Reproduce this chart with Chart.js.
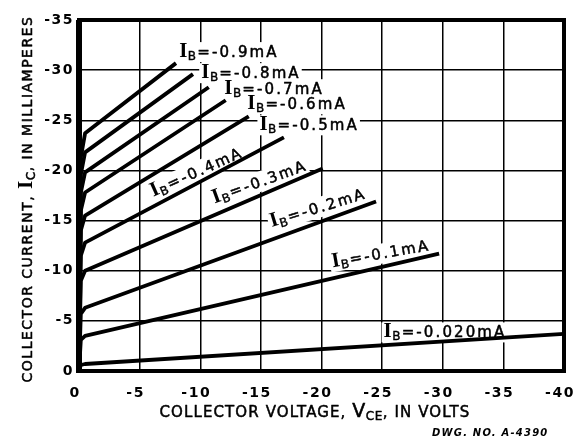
<!DOCTYPE html>
<html><head><meta charset="utf-8">
<script src="https://cdn.jsdelivr.net/npm/chart.js@4"></script>
<style>html,body{margin:0;padding:0;background:#fff}canvas{display:block}</style>
</head><body>
<canvas id="c" width="575" height="444"></canvas>
<script>
// ---- data ----
const baseCurrents = ['-0.9', '-0.8', '-0.7', '-0.6', '-0.5', '-0.4', '-0.3', '-0.2', '-0.1', '-0.020'];
// [collector voltage (V), collector current (mA)]
const curve090 = [[0, 0], [-0.15, -21.3], [-0.5, -23.7], [-8.0, -30.7]];
const curve080 = [[0, 0], [-0.15, -19.6], [-0.5, -21.8], [-9.4, -29.6]];
const curve070 = [[0, 0], [-0.15, -17.8], [-0.5, -19.8], [-10.7, -28.3]];
const curve060 = [[0, 0], [-0.15, -16.0], [-0.5, -17.8], [-12.1, -27.0]];
const curve050 = [[0, 0], [-0.15, -14.0], [-0.5, -15.5], [-14.0, -25.4]];
const curve040 = [[0, 0], [-0.15, -11.5], [-0.5, -12.8], [-16.9, -23.3]];
const curve030 = [[0, 0], [-0.15, -9.0], [-0.5, -10.0], [-20.1, -20.2]];
const curve020 = [[0, 0], [-0.15, -5.7], [-0.5, -6.3], [-24.5, -16.9]];
const curve010 = [[0, 0], [-0.15, -3.1], [-0.5, -3.5], [-29.7, -11.7]];
const curve002 = [[0, 0], [-0.15, -0.6], [-0.5, -0.7], [-40.0, -3.7]];
const xTickValues = [0, -5, -10, -15, -20, -25, -30, -35, -40];
const yTickValues = [0, -5, -10, -15, -20, -25, -30, -35];

const curves = [curve090, curve080, curve070, curve060, curve050, curve040, curve030, curve020, curve010, curve002];

const SANS = '"DejaVu Sans", sans-serif';
const SERIF = '"Liberation Serif", serif';

function measureParts(ctx, parts) {
  return parts.map(p => { ctx.font = p.font; ctx.letterSpacing = (p.ls || 0) + 'px'; return ctx.measureText(p.t).width; });
}
function drawRich(ctx, parts, x, y, angleDeg, align, mode, box) {
  ctx.save();
  ctx.translate(x, y);
  ctx.rotate(angleDeg * Math.PI / 180);
  const w = measureParts(ctx, parts);
  const total = w.reduce((a, b) => a + b, 0);
  let sx = align === 'left' ? 0 : (align === 'right' ? -total : -total / 2);
  ctx.textBaseline = 'alphabetic';
  ctx.textAlign = 'left';
  if (mode === 'bg') {
    ctx.fillStyle = '#fff';
    ctx.fillRect(sx - 2, -box[0], total + 3, box[0] + box[1]);
  } else {
    ctx.fillStyle = '#000';
    ctx.strokeStyle = '#000';
    ctx.lineJoin = 'round';
    parts.forEach((p, k) => {
      ctx.font = p.font; ctx.letterSpacing = (p.ls || 0) + 'px';
      ctx.fillText(p.t, sx, p.dy || 0);
      if (p.sw) { ctx.lineWidth = p.sw; ctx.strokeText(p.t, sx, p.dy || 0); }
      sx += w[k];
    });
  }
  ctx.restore();
}
function ibParts(val) {
  return [
    { t: 'I', font: 'bold 21px ' + SERIF, ls: 0.5 },
    { t: 'B', font: '12px ' + SANS, dy: 3, ls: 1.2, sw: 0.4 },
    { t: '=' + val + 'mA', font: '15px ' + SANS, ls: 2.1, sw: 0.5 }
  ];
}

const labelPlugin = {
  id: 'labels',
  beforeLayout(chart) { chart.ctx.letterSpacing = '1.5px'; },
  beforeDraw(chart) { chart.ctx.letterSpacing = '1.5px'; },
  beforeDatasetsDraw(chart, args, opts) {
    const { ctx, scales: { x, y } } = chart;
    opts.spots.forEach((s, k) => {
      drawRich(ctx, ibParts(baseCurrents[k]), x.getPixelForValue(s.v), y.getPixelForValue(s.i), s.a, s.align, 'bg', [15, 5]);
    });
  },
  afterDatasetsDraw(chart, args, opts) {
    const { ctx, chartArea: ca, scales: { x, y } } = chart;
    // frame
    ctx.save();
    ctx.letterSpacing = '0px';
    ctx.strokeStyle = '#000';
    ctx.lineWidth = 4;
    ctx.strokeRect(ca.left, ca.top, ca.right - ca.left, ca.bottom - ca.top);
    ctx.lineWidth = 6;
    ctx.beginPath(); ctx.moveTo(ca.left, ca.top); ctx.lineTo(ca.left, ca.bottom + 2); ctx.stroke();
    ctx.restore();
    opts.spots.forEach((s, k) => {
      drawRich(ctx, ibParts(baseCurrents[k]), x.getPixelForValue(s.v), y.getPixelForValue(s.i), s.a, s.align, 'text');
    });
    // axis titles
    drawRich(ctx, [
      { t: 'COLLECTOR VOLTAGE, ', font: '15px ' + SANS, ls: 1.1, sw: 0.5 },
      { t: 'V', font: '19px ' + SANS, ls: 0.5, sw: 0.6 },
      { t: 'CE', font: '12px ' + SANS, dy: 3, ls: 0.5, sw: 0.5 },
      { t: ', IN VOLTS', font: '15px ' + SANS, ls: 1.1, sw: 0.5 }
    ], 315, 417, 0, 'center', 'text');
    drawRich(ctx, [
      { t: 'COLLECTOR CURRENT, ', font: '14px ' + SANS, ls: 1.5, sw: 0.5 },
      { t: 'I', font: 'bold 21px ' + SERIF, ls: 0.5 },
      { t: 'C', font: '12px ' + SANS, dy: 3, ls: 0.5, sw: 0.5 },
      { t: ', IN MILLIAMPERES', font: '14px ' + SANS, ls: 1.5, sw: 0.5 }
    ], 32, 199, -90, 'center', 'text');
    drawRich(ctx, [{ t: 'DWG. NO. A-4390', font: 'italic bold 10px ' + SANS, ls: 1.2 }], 432, 436, 0, 'left', 'text');
  }
};

new Chart(document.getElementById('c'), {
  type: 'scatter',
  data: {
    datasets: curves.map((c, k) => ({
      label: 'IB=' + baseCurrents[k] + 'mA',
      data: c.map(p => ({ x: p[0], y: p[1] })),
      showLine: true,
      borderColor: '#000',
      borderWidth: 3.8,
      pointRadius: 0,
      tension: 0,
      borderCapStyle: 'butt',
      borderJoinStyle: 'round'
    }))
  },
  options: {
    responsive: false,
    devicePixelRatio: 1,
    animation: false,
    events: [],
    layout: { padding: { top: 20, right: 11, left: 0, bottom: 0 } },
    plugins: {
      legend: { display: false },
      tooltip: { enabled: false },
      labels: {
        spots: [
          { v: -8.26, i: -31.3, a: 0, align: 'left' },
          { v: -10.08, i: -29.2, a: 0, align: 'left' },
          { v: -11.98, i: -27.6, a: 0, align: 'left' },
          { v: -13.88, i: -26.1, a: 0, align: 'left' },
          { v: -14.88, i: -24.0, a: 0, align: 'left' },
          { v: -9.87, i: -19.4, a: -24, align: 'center' },
          { v: -15.04, i: -18.4, a: -20, align: 'center' },
          { v: -19.83, i: -15.8, a: -17, align: 'center' },
          { v: -24.96, i: -11.2, a: -10, align: 'center' },
          { v: -25.12, i: -3.35, a: 0, align: 'left' }
        ]
      }
    },
    scales: {
      x: {
        type: 'linear', min: -40, max: 0, reverse: true,
        afterBuildTicks: s => { s.ticks = xTickValues.map(v => ({ value: v })); },
        afterFit: s => { s.height = 73; s.paddingLeft = 0; s.paddingRight = 0; },
        grid: { color: '#000', lineWidth: 1.5, drawTicks: false },
        border: { display: false },
        ticks: { color: '#000', font: { family: SANS, size: 14, weight: 'bold' }, padding: 14, labelOffset: -4, maxRotation: 0, autoSkip: false }
      },
      y: {
        type: 'linear', min: -35, max: 0, reverse: true,
        afterBuildTicks: s => { s.ticks = yTickValues.map(v => ({ value: v })); },
        afterFit: s => { s.width = 79; s.paddingTop = 0; s.paddingBottom = 0; },
        grid: { color: '#000', lineWidth: 1.5, drawTicks: false },
        border: { display: false },
        ticks: { color: '#000', font: { family: SANS, size: 14, weight: 'bold' }, padding: 5, autoSkip: false }
      }
    }
  },
  plugins: [labelPlugin]
});
</script>
</body></html>
